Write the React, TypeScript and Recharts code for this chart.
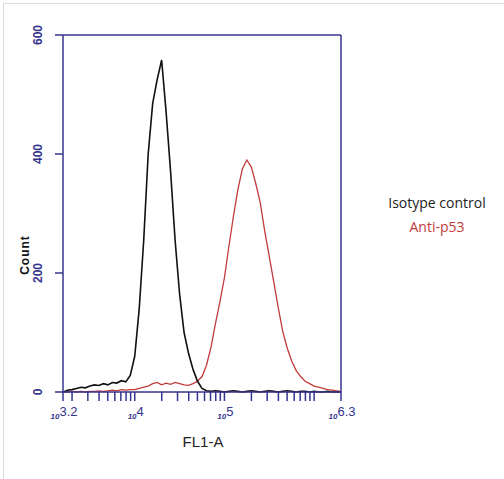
import { LineChart, Line, XAxis, YAxis, ReferenceLine } from "recharts";

// histogram bins on log10(FL1-A) channel
const bins = [
  3.2, 3.25, 3.3, 3.35, 3.4, 3.45, 3.5, 3.55, 3.6, 3.65, 3.7, 3.75, 3.8, 3.85, 3.9, 3.95,
  4.0, 4.05, 4.1, 4.15, 4.2, 4.25, 4.3, 4.35, 4.4, 4.45, 4.5, 4.55, 4.6, 4.65, 4.7, 4.75,
  4.8, 4.85, 4.9, 4.95, 5.0, 5.05, 5.1, 5.15, 5.2, 5.25, 5.3, 5.35, 5.4, 5.45, 5.5, 5.55,
  5.6, 5.65, 5.7, 5.75, 5.8, 5.85, 5.9, 5.95, 6.0, 6.05, 6.1, 6.15, 6.2, 6.25, 6.3,
];
const isotype = [
  0, 3, 4, 6, 8, 7, 10, 12, 11, 14, 12, 16, 15, 19, 17, 28,
  60, 140, 255, 400, 485, 525, 558, 470, 370, 255, 165, 100, 65, 38, 18, 6,
  2, 1, 2, 1, 0, 1, 2, 1, 0, 1, 2, 1, 0, 1, 2, 1,
  0, 1, 2, 1, 0, 1, 1, 0, 1, 0, 0, 1, 0, 0, 0,
];
const antiP53 = [
  0, 0, 1, 0, 1, 0, 1, 1, 2, 1, 2, 3, 2, 4, 3, 4,
  4, 6, 8, 10, 14, 16, 12, 15, 13, 16, 14, 12, 11, 14, 18, 26,
  45, 75, 115, 152, 192, 245, 295, 340, 375, 390, 378, 350, 318, 270, 228, 185,
  142, 102, 74, 52, 36, 26, 18, 14, 10, 8, 6, 4, 3, 2, 1,
];

const majorTicks = [3.2, 4, 5, 6.3];
const xTicks = [
  3.2, 3.301, 3.477, 3.602, 3.699, 3.778, 3.845, 3.903, 3.954,
  4, 4.301, 4.477, 4.602, 4.699, 4.778, 4.845, 4.903, 4.954,
  5, 5.301, 5.477, 5.602, 5.699, 5.778, 5.845, 5.903, 5.954,
  6, 6.3,
];
const yTicks = [0, 200, 400, 600];

const data = bins.map((b, i) => ({ x: b, iso: isotype[i], p53: antiP53[i] }));

const NAVY = "#34348c";
const RED = "#c23a3a";

function XTick(props: any) {
  const { x, y, payload } = props;
  const v = payload.value;
  if (!majorTicks.includes(v)) return null;
  return (
    <text x={x + 1} y={y + 16} textAnchor="middle" fill={NAVY} fontFamily="Arial, sans-serif">
      <tspan fontSize={8} fontWeight="bold" fontStyle="italic">10</tspan>
      <tspan fontSize={13} dy={-3}>{String(v)}</tspan>
    </text>
  );
}

function YTick(props: any) {
  const { x, y, payload } = props;
  return (
    <text
      x={x - 11}
      y={y}
      transform={`rotate(-90 ${x - 11} ${y})`}
      textAnchor="middle"
      fill={NAVY}
      fontSize={12}
      fontWeight="bold"
      fontFamily="Arial, sans-serif"
    >
      {payload.value}
    </text>
  );
}

export default function App() {
  return (
    <div style={{ position: "absolute", left: 0, top: 0, width: 504, height: 479, background: "#fff" }}>
      <div
        style={{
          position: "absolute",
          left: 3,
          top: 3,
          width: 501,
          height: 476,
          borderTop: "1px solid #dcdcdc",
          borderLeft: "1px solid #dcdcdc",
        }}
      />
      <LineChart width={504} height={479} data={data} margin={{ top: 35, right: 163, bottom: 37, left: 8 }}>
        <XAxis
          dataKey="x"
          type="number"
          domain={[3.2, 6.3]}
          ticks={xTicks}
          interval={0}
          tick={<XTick />}
          tickSize={9}
          tickLine={{ stroke: NAVY, strokeWidth: 1.5 }}
          axisLine={{ stroke: NAVY, strokeWidth: 1.5 }}
          height={50}
          allowDataOverflow
        />
        <YAxis
          type="number"
          domain={[0, 600]}
          ticks={yTicks}
          tick={<YTick />}
          tickSize={8}
          tickLine={{ stroke: NAVY, strokeWidth: 1.5 }}
          axisLine={{ stroke: NAVY, strokeWidth: 1.5 }}
          width={55}
        />
        <ReferenceLine y={600} stroke={NAVY} strokeWidth={1.5} />
        <ReferenceLine x={6.3} stroke={NAVY} strokeWidth={1.5} />
        <Line dataKey="p53" type="linear" stroke={RED} strokeWidth={1.3} dot={false} isAnimationActive={false} />
        <Line dataKey="iso" type="linear" stroke="#111" strokeWidth={1.6} dot={false} isAnimationActive={false} />
      </LineChart>
      <div
        style={{
          position: "absolute",
          left: 25,
          top: 255,
          transform: "translate(-50%, -50%) rotate(-90deg)",
          fontFamily: "Arial, sans-serif",
          fontWeight: "bold",
          fontSize: 12,
          letterSpacing: 1,
          color: "#111",
        }}
      >
        Count
      </div>
      <div
        style={{
          position: "absolute",
          left: 203,
          top: 441,
          transform: "translate(-50%, -50%)",
          fontFamily: "Arial, sans-serif",
          fontSize: 15,
          color: "#222",
        }}
      >
        FL1-A
      </div>
      <div
        style={{
          position: "absolute",
          left: 437,
          top: 191,
          transform: "translateX(-50%)",
          fontFamily: "'Open Sans', sans-serif",
          fontSize: 14,
          lineHeight: "24px",
          textAlign: "center",
          whiteSpace: "nowrap",
        }}
      >
        <div style={{ color: "#222" }}>Isotype control</div>
        <div style={{ color: RED }}>Anti-p53</div>
      </div>
    </div>
  );
}
